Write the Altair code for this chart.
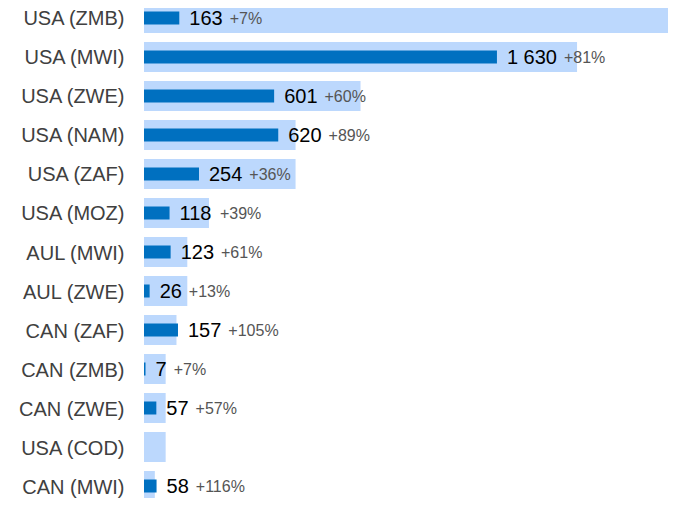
import altair as alt
import pandas as pd

categories = ["USA (ZMB)", "USA (MWI)", "USA (ZWE)", "USA (NAM)", "USA (ZAF)", "USA (MOZ)",
              "AUL (MWI)", "AUL (ZWE)", "CAN (ZAF)", "CAN (ZMB)", "CAN (ZWE)", "USA (COD)", "CAN (MWI)"]
values = [163, 1630, 601, 620, 254, 118, 123, 26, 157, 7, 57, None, 58]
value_labels = ["163", "1 630", "601", "620", "254", "118", "123", "26", "157", "7", "57", None, "58"]
growth_labels = ["+7%", "+81%", "+60%", "+89%", "+36%", "+39%", "+61%", "+13%", "+105%", "+7%", "+57%", None, "+116%"]
targets = [2500, 2000, 1000, 700, 700, 300, 200, 200, 150, 100, 100, 100, 50]

W = 524
H = 490
XMAX = 2420
FONT = "Liberation Sans"

df = pd.DataFrame({"cat": categories, "value": values, "vlabel": value_labels,
                   "glabel": growth_labels, "target": targets})

x_scale = alt.Scale(domain=[0, XMAX], nice=False, zero=True)
y_enc = alt.Y("cat:N", sort=categories, title=None,
              scale=alt.Scale(range=[-5, 493], paddingInner=0.2308, paddingOuter=0),
              axis=alt.Axis(ticks=False, domain=False, grid=False, labelFont=FONT,
                            labelFontSize=20, labelColor="#404040", labelPadding=20,
                            labelOffset=1.5))

base = alt.Chart(df)

light = base.mark_bar(color="#BCD8FD", clip=True).encode(
    x=alt.X("target:Q", scale=x_scale, axis=None),
    y=y_enc,
)

dark = base.mark_bar(color="#0070C0", height=13).encode(
    x=alt.X("value:Q", scale=x_scale, axis=None),
    y=alt.Y("cat:N", sort=categories),
)

vtext = base.mark_text(align="left", baseline="middle", dx=10, dy=1, font=FONT,
                       fontSize=20, color="#000000").encode(
    x=alt.X("value:Q", scale=x_scale, axis=None),
    y=alt.Y("cat:N", sort=categories),
    text="vlabel:N",
)

ppu = W / XMAX
gtext = base.transform_filter("datum.glabel != null").transform_calculate(
    nsp="length(datum.vlabel) - length(replace(datum.vlabel, ' ', ''))",
).transform_calculate(
    gx=f"datum.value + (10 + (length(datum.vlabel) - datum.nsp) * 11.12 + datum.nsp * 5.56 + 7) / {ppu}"
).mark_text(align="left", baseline="middle", dy=1, font=FONT, fontSize=16, color="#555555").encode(
    x=alt.X("gx:Q", scale=x_scale, axis=None),
    y=alt.Y("cat:N", sort=categories),
    text="glabel:N",
)

chart = alt.layer(light, dark, vtext, gtext).properties(
    width=W, height=H,
    autosize=alt.AutoSizeParams(type="none"),
    padding={"left": 136, "top": 0, "right": 0, "bottom": 0},
).configure_view(stroke=None)

chart.save("out.html", embed_options={"renderer": "svg", "actions": False})
